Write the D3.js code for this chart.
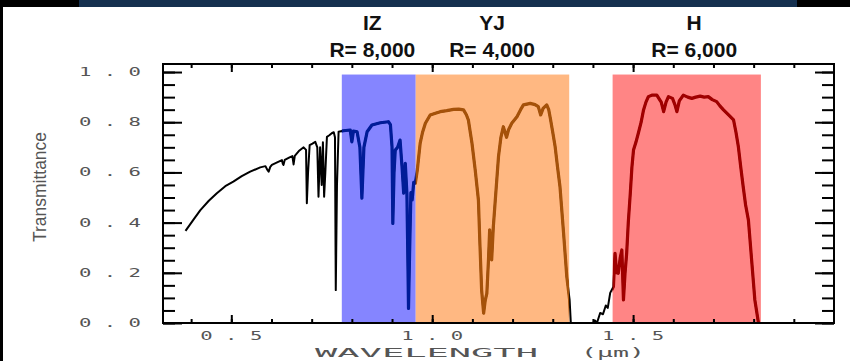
<!DOCTYPE html>
<html>
<head>
<meta charset="utf-8">
<script src="https://cdn.jsdelivr.net/npm/d3@7"></script>
<style>
  html, body { margin: 0; padding: 0; background: #ffffff; }
  svg { display: block; }
</style>
</head>
<body>
<div id="chart"></div>
<script>
// Courbe de transmission atmosphérique (longueur d'onde en µm, transmission 0-1)
const wavelength = [
  0.386, 0.405, 0.423, 0.444, 0.464, 0.485, 0.505, 0.526, 0.547, 0.572,
  0.585, 0.589, 0.593, 0.597, 0.601, 0.614, 0.626, 0.628, 0.630, 0.633,
  0.645, 0.652, 0.655, 0.658, 0.668, 0.680, 0.686, 0.688, 0.691, 0.695,
  0.702, 0.709, 0.714, 0.717, 0.721, 0.725, 0.728, 0.731, 0.734, 0.738,
  0.744, 0.750, 0.755, 0.758, 0.760, 0.763, 0.767, 0.779, 0.796, 0.800,
  0.804, 0.813, 0.820, 0.825, 0.830, 0.838, 0.850, 0.871, 0.891, 0.896,
  0.900, 0.902, 0.905, 0.908, 0.914, 0.920, 0.925, 0.929, 0.933, 0.937,
  0.939, 0.941, 0.944, 0.947, 0.950, 0.954, 0.958, 0.963, 0.970, 0.976,
  0.983, 0.995, 1.008, 1.020, 1.036, 1.053, 1.066, 1.078, 1.085, 1.090,
  1.099, 1.107, 1.115, 1.119, 1.123, 1.128, 1.132, 1.136, 1.140, 1.143,
  1.148, 1.152, 1.157, 1.165, 1.171, 1.177, 1.185, 1.190, 1.198, 1.211,
  1.220, 1.227, 1.244, 1.256, 1.264, 1.270, 1.276, 1.285, 1.290, 1.294,
  1.300, 1.306, 1.312, 1.318, 1.327, 1.335, 1.342, 1.345, 1.400, 1.405,
  1.410, 1.418, 1.425, 1.432, 1.437, 1.443, 1.451, 1.455, 1.459, 1.463,
  1.468, 1.472, 1.476, 1.480, 1.484, 1.488, 1.493, 1.497, 1.501, 1.507,
  1.513, 1.520, 1.526, 1.532, 1.538, 1.548, 1.559, 1.566, 1.570, 1.576,
  1.582, 1.588, 1.598, 1.604, 1.609, 1.615, 1.625, 1.636, 1.646, 1.656,
  1.667, 1.677, 1.687, 1.697, 1.708, 1.716, 1.725, 1.737, 1.750, 1.756,
  1.762, 1.768, 1.774, 1.780, 1.787, 1.795, 1.803, 1.812
];
const transmittance = [
  0.367, 0.410, 0.450, 0.487, 0.517, 0.545, 0.563, 0.585, 0.603, 0.620,
  0.625, 0.612, 0.603, 0.622, 0.630, 0.640, 0.649, 0.635, 0.630, 0.650,
  0.660, 0.665, 0.632, 0.666, 0.685, 0.700, 0.690, 0.477, 0.600, 0.709,
  0.715, 0.722, 0.700, 0.503, 0.700, 0.550, 0.720, 0.503, 0.600, 0.742,
  0.748, 0.756, 0.760, 0.740, 0.131, 0.550, 0.762, 0.766, 0.769, 0.722,
  0.765, 0.762, 0.700, 0.497, 0.700, 0.762, 0.789, 0.798, 0.802, 0.790,
  0.702, 0.397, 0.600, 0.689, 0.700, 0.729, 0.620, 0.517, 0.636, 0.517,
  0.300, 0.058, 0.300, 0.520, 0.490, 0.560, 0.557, 0.610, 0.716, 0.760,
  0.796, 0.829, 0.836, 0.842, 0.846, 0.851, 0.852, 0.849, 0.830, 0.809,
  0.716, 0.610, 0.490, 0.304, 0.131, 0.039, 0.090, 0.118, 0.250, 0.371,
  0.251, 0.380, 0.490, 0.663, 0.740, 0.782, 0.740, 0.770, 0.796, 0.822,
  0.850, 0.869, 0.875, 0.870, 0.862, 0.829, 0.855, 0.869, 0.850, 0.816,
  0.760, 0.702, 0.620, 0.543, 0.357, 0.184, 0.092, 0.000, 0.000, 0.010,
  0.000, 0.040, 0.035, 0.070, 0.060, 0.120, 0.145, 0.278, 0.200, 0.198,
  0.260, 0.291, 0.092, 0.200, 0.278, 0.400, 0.517, 0.620, 0.689, 0.720,
  0.756, 0.800, 0.849, 0.880, 0.902, 0.908, 0.908, 0.890, 0.880, 0.842,
  0.880, 0.902, 0.895, 0.870, 0.842, 0.885, 0.908, 0.900, 0.895, 0.900,
  0.904, 0.900, 0.902, 0.890, 0.882, 0.865, 0.849, 0.830, 0.809, 0.760,
  0.702, 0.620, 0.543, 0.470, 0.410, 0.251, 0.092, 0.000
];

// Bandes du spectrographe
const bandNames = ['IZ', 'YJ', 'H'];
const bandResolution = ['R= 8,000', 'R= 4,000', 'R= 6,000'];
const bandStart = [0.775, 0.959, 1.449];
const bandEnd = [0.959, 1.341, 1.818];
const bandLabelAt = [0.851, 1.149, 1.652];
const bandTop = 0.99;

// Graduations
const xMajorTicks = [0.5, 1.0, 1.5];
const xMinorTicks = [0.4, 0.5, 0.6, 0.7, 0.8, 0.9, 1.0, 1.1, 1.2, 1.3, 1.4, 1.5, 1.6, 1.7, 1.8, 1.9];
const yMajorTicks = [0.0, 0.2, 0.4, 0.6, 0.8, 1.0];
const yMinorTicks = d3.range(0, 21).map(i => i / 20);

const W = 850, H = 361;
const bandFill = ['#8585ff', '#ffb882', '#ff8585'];
const bandLine = ['#001c98', '#a5520a', '#a00000'];

const svg = d3.select('#chart')
    .append('svg')
    .attr('width', W)
    .attr('height', H);

// Cadre sombre du haut (capture d'écran d'origine)
svg.append('rect').attr('x', 0).attr('y', 0).attr('width', W).attr('height', 7).attr('fill', '#000');
svg.append('rect').attr('x', 79).attr('y', 0).attr('width', 718).attr('height', 7).attr('fill', '#15304f');
svg.append('rect').attr('x', 0).attr('y', 0).attr('width', 3).attr('height', H).attr('fill', '#000');

// Échelles
const x = d3.scaleLinear().domain([0.33, 2.0]).range([163, 834]);
const y = d3.scaleLinear().domain([0, 1.032]).range([323, 64]);

// Bandes colorées
const bands = bandNames.map((name, i) => ({
    name, res: bandResolution[i], x0: bandStart[i], x1: bandEnd[i], at: bandLabelAt[i],
    fill: bandFill[i], line: bandLine[i]
}));

svg.selectAll('.band')
    .data(bands)
    .join('rect')
    .attr('class', 'band')
    .attr('x', d => x(d.x0))
    .attr('y', y(bandTop))
    .attr('width', d => x(d.x1) - x(d.x0))
    .attr('height', y(0) - y(bandTop))
    .attr('fill', d => d.fill);

// Courbe
const points = wavelength.map((w, i) => [w, transmittance[i]]);
const line = d3.line().x(d => x(d[0])).y(d => y(d[1]));

svg.append('path')
    .attr('d', line(points))
    .attr('fill', 'none')
    .attr('stroke', '#000')
    .attr('stroke-width', 2)
    .attr('stroke-linejoin', 'round');

// Parties de la courbe dans chaque bande, en couleur
const defs = svg.append('defs');
bands.forEach((b, i) => {
    defs.append('clipPath')
        .attr('id', 'clip-' + i)
        .append('rect')
        .attr('x', x(b.x0))
        .attr('y', 0)
        .attr('width', x(b.x1) - x(b.x0))
        .attr('height', H);

    svg.append('path')
        .attr('d', line(points))
        .attr('clip-path', `url(#clip-${i})`)
        .attr('fill', 'none')
        .attr('stroke', b.line)
        .attr('stroke-width', 3.2)
        .attr('stroke-linejoin', 'round');
});

// Axes (graduations vers l'intérieur)
function drawAxis(axis, transform) {
    const g = svg.append('g')
        .attr('transform', transform)
        .call(axis.tickFormat('').tickSizeOuter(0));
    g.select('.domain').remove();
    g.selectAll('line').attr('stroke', '#000').attr('stroke-width', 2);
}

drawAxis(d3.axisBottom(x).tickValues(xMinorTicks).tickSizeInner(-4), `translate(0,${y(0)})`);
drawAxis(d3.axisBottom(x).tickValues(xMajorTicks).tickSizeInner(-8), `translate(0,${y(0)})`);
drawAxis(d3.axisTop(x).tickValues(xMinorTicks).tickSizeInner(-4), `translate(0,${y(1.032)})`);
drawAxis(d3.axisTop(x).tickValues(xMajorTicks).tickSizeInner(-8), `translate(0,${y(1.032)})`);
drawAxis(d3.axisLeft(y).tickValues(yMinorTicks).tickSizeInner(-12), `translate(${x(0.33)},0)`);
drawAxis(d3.axisLeft(y).tickValues(yMajorTicks).tickSizeInner(-19), `translate(${x(0.33)},0)`);
drawAxis(d3.axisRight(y).tickValues(yMinorTicks).tickSizeInner(-12), `translate(${x(2.0)},0)`);
drawAxis(d3.axisRight(y).tickValues(yMajorTicks).tickSizeInner(-19), `translate(${x(2.0)},0)`);

// Cadre
svg.append('rect')
    .attr('x', x(0.33))
    .attr('y', y(1.032))
    .attr('width', x(2.0) - x(0.33))
    .attr('height', y(0) - y(1.032))
    .attr('fill', 'none')
    .attr('stroke', '#000')
    .attr('stroke-width', 2);

// Étiquettes des graduations (police large et basse)
const spaced = v => d3.format('.1f')(v).split('').join(' ');

svg.selectAll('.ylab')
    .data(yMajorTicks)
    .join('text')
    .attr('class', 'ylab')
    .attr('x', 110)
    .attr('y', d => y(d) + 4)
    .attr('text-anchor', 'middle')
    .attr('textLength', 62)
    .attr('lengthAdjust', 'spacingAndGlyphs')
    .style('font-family', 'DejaVu Sans Mono, monospace')
    .style('font-size', '12px')
    .style('fill', '#555')
    .text(spaced);

svg.selectAll('.xlab')
    .data(xMajorTicks)
    .join('text')
    .attr('class', 'xlab')
    .attr('x', d => x(d))
    .attr('y', 340)
    .attr('text-anchor', 'middle')
    .attr('textLength', 62)
    .attr('lengthAdjust', 'spacingAndGlyphs')
    .style('font-family', 'DejaVu Sans Mono, monospace')
    .style('font-size', '12px')
    .style('fill', '#555')
    .text(spaced);

// Titres des axes
svg.append('text')
    .attr('x', 315)
    .attr('y', 357)
    .attr('textLength', 223)
    .attr('lengthAdjust', 'spacingAndGlyphs')
    .style('font-family', 'DejaVu Sans Mono, monospace')
    .style('font-size', '13px')
    .style('fill', '#555')
    .text('WAVELENGTH');

svg.append('text')
    .attr('x', 581)
    .attr('y', 357)
    .attr('textLength', 64)
    .attr('lengthAdjust', 'spacingAndGlyphs')
    .style('font-family', 'DejaVu Sans Mono, monospace')
    .style('font-size', '13px')
    .style('fill', '#555')
    .text('(µm)');

svg.append('text')
    .attr('transform', 'translate(46,187) rotate(-90)')
    .attr('text-anchor', 'middle')
    .attr('textLength', 110)
    .attr('lengthAdjust', 'spacingAndGlyphs')
    .style('font-family', 'Liberation Sans Narrow, Liberation Sans, sans-serif')
    .style('font-size', '19px')
    .style('fill', '#555')
    .text('Transmittance');

// Noms des bandes et résolutions
svg.selectAll('.bname')
    .data(bands)
    .join('text')
    .attr('class', 'bname')
    .attr('x', d => x(d.at))
    .attr('y', 30)
    .attr('text-anchor', 'middle')
    .style('font-family', 'Liberation Sans, Arial, sans-serif')
    .style('font-weight', 'bold')
    .style('font-size', '21px')
    .style('fill', '#111')
    .text(d => d.name);

svg.selectAll('.bres')
    .data(bands)
    .join('text')
    .attr('class', 'bres')
    .attr('x', d => x(d.at))
    .attr('y', 57)
    .attr('text-anchor', 'middle')
    .style('font-family', 'Liberation Sans, Arial, sans-serif')
    .style('font-weight', 'bold')
    .style('font-size', '21px')
    .style('fill', '#111')
    .text(d => d.res);
</script>
</body>
</html>
